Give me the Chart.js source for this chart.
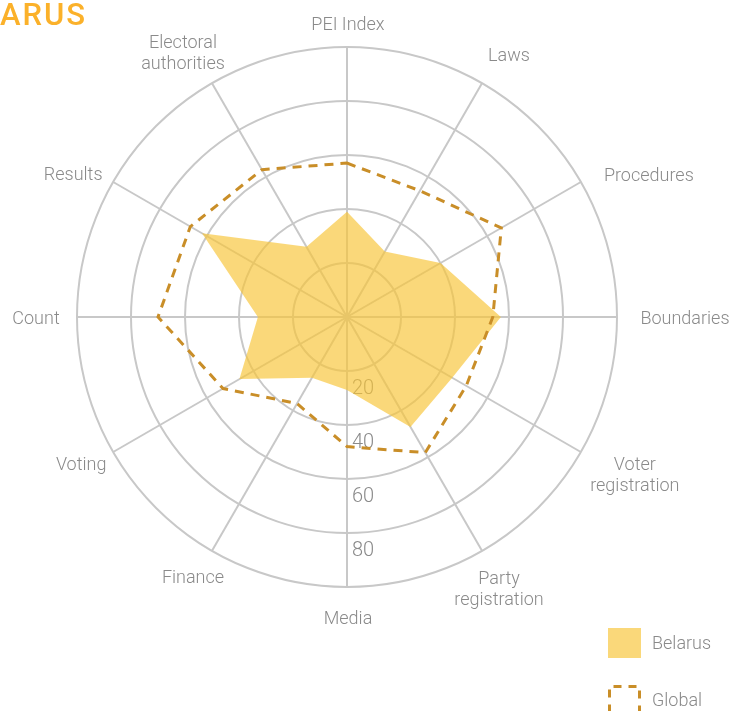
<!DOCTYPE html>
<html lang="en">
<head>
<meta charset="UTF-8">
<title>Belarus - Perceptions of Electoral Integrity</title>
<script src="https://cdn.jsdelivr.net/npm/chart.js"></script>
<style>
    html, body {
        margin: 0;
        padding: 0;
        background: #ffffff;
        overflow: hidden;
    }

    #wrap {
        position: relative;
        width: 731px;
        height: 711px;
    }

    #title {
        position: absolute;
        left: 0;
        top: -1px;
        font: 500 31px Roboto, sans-serif;
        line-height: 31px;
        letter-spacing: 2px;
        color: #fbb12a;
    }

    .key {
        position: absolute;
        left: 608px;
        height: 30px;
        font: 300 18px Roboto, sans-serif;
        color: #8a8a8a;
    }

    .key .sw {
        position: absolute;
        left: 0;
        top: 0;
        width: 33px;
        height: 30px;
    }

    .key span {
        position: absolute;
        left: 44px;
        top: 4px;
        white-space: nowrap;
    }
</style>
</head>
<body>
<div id="wrap">
    <canvas id="peiChart"></canvas>
    <div id="title">ARUS</div>
    <div class="key" style="top:628px">
        <div class="sw" style="background:#fad87a"></div>
        <span id="key0"></span>
    </div>
    <div class="key" style="top:685px">
        <svg class="sw" width="34" height="32">
            <rect x="1.5" y="1.5" width="30" height="30" fill="none" stroke="#c98e28" stroke-width="3"
                  stroke-dasharray="8 7" stroke-dashoffset="-4"></rect>
        </svg>
        <span id="key1"></span>
    </div>
</div>

<script>
    // axes, clockwise from the top
    const categories = [
        'PEI Index', 'Laws', 'Procedures', 'Boundaries',
        ['Voter', 'registration'], ['Party', 'registration'],
        'Media', 'Finance', 'Voting', 'Count', 'Results',
        ['Electoral', 'authorities']
    ];
    const seriesNames = ['Belarus', 'Global'];
    const belarus = [39, 28, 40, 57, 45, 47, 27, 26, 46, 33, 62, 30];
    const globalAvg = [57, 54, 66, 54, 51, 58, 48, 37, 53, 70, 67, 63];
    const tickValues = [20, 40, 60, 80];

    document.getElementById('key0').textContent = seriesNames[0];
    document.getElementById('key1').textContent = seriesNames[1];

    // where each axis label sits, relative to the end of its axis on the outer ring
    const labelOffset = [
        [1, -24], [27, -29], [68, -8], [68, 0], [54, 22], [17, 37],
        [1, 30], [-19, 26], [-32, 11], [-41, 0], [-40, -9], [-29, -31]
    ];

    const tickLabels = {
        id: 'tickLabels',
        beforeDatasetsDraw(chart) {
            const r = chart.scales.r;
            const ctx = chart.ctx;
            ctx.save();
            ctx.font = '300 20px Roboto, sans-serif';
            ctx.fillStyle = '#8a8a8a';
            ctx.textAlign = 'left';
            ctx.textBaseline = 'alphabetic';
            tickValues.forEach(v => {
                const y = r.yCenter + r.getDistanceFromCenterForValue(v);
                ctx.fillText(String(v), r.xCenter + 5, y + 23);
            });
            ctx.restore();
        }
    };

    const axisLabels = {
        id: 'axisLabels',
        afterDatasetsDraw(chart) {
            const r = chart.scales.r;
            const ctx = chart.ctx;
            const cap = 13, lineH = 21;
            ctx.save();
            ctx.font = '300 18px Roboto, sans-serif';
            ctx.fillStyle = '#8a8a8a';
            ctx.textAlign = 'center';
            ctx.textBaseline = 'alphabetic';
            chart.data.labels.forEach((lbl, i) => {
                const lines = Array.isArray(lbl) ? lbl : [lbl];
                const h = cap + (lines.length - 1) * lineH;
                const p = r.getPointPosition(i, r.drawingArea);
                const cx = p.x + labelOffset[i][0];
                const top = p.y + labelOffset[i][1] - h / 2;
                lines.forEach((t, k) => ctx.fillText(t, cx, top + cap + k * lineH));
            });
            ctx.restore();
        }
    };

    const ctx = document.getElementById('peiChart').getContext('2d');
    new Chart(ctx, {
        type: 'radar',
        data: {
            labels: categories,
            datasets: [
                {
                    label: seriesNames[0],
                    data: belarus,
                    fill: true,
                    backgroundColor: 'rgba(248, 197, 57, 0.67)',
                    borderWidth: 0,
                    pointRadius: 0,
                    order: 1
                },
                {
                    label: seriesNames[1],
                    data: globalAvg,
                    fill: false,
                    borderColor: '#c98e28',
                    borderWidth: 3,
                    borderDash: [9, 7],
                    pointRadius: 0,
                    order: 0
                }
            ]
        },
        options: {
            responsive: true,
            maintainAspectRatio: false,
            animation: false,
            layout: {
                padding: { top: 47, bottom: 124, left: 0, right: 37 }
            },
            plugins: {
                legend: { display: false },
                tooltip: { enabled: false }
            },
            elements: {
                line: { tension: 0 }
            },
            scales: {
                r: {
                    min: 0,
                    max: 100,
                    ticks: { display: false, stepSize: 20 },
                    grid: { color: '#c8c8c8', lineWidth: 2, circular: true },
                    angleLines: { color: '#c8c8c8', lineWidth: 2 },
                    pointLabels: { display: false }
                }
            }
        },
        plugins: [tickLabels, axisLabels]
    });
</script>
</body>
</html>
